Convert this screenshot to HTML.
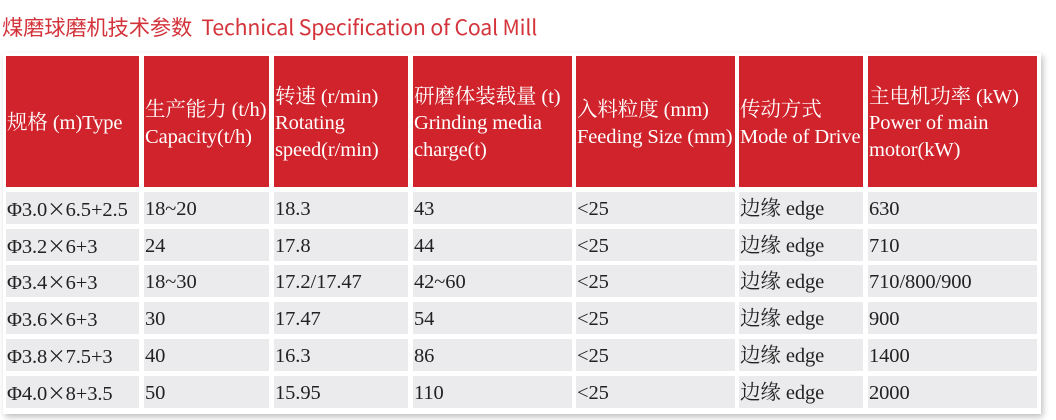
<!DOCTYPE html>
<html><head><meta charset="utf-8"><style>
body{margin:0;width:1056px;height:420px;background:#fff;overflow:hidden;position:relative}
.t{position:absolute;left:2px;top:11px;font:21.3px "Noto Sans CJK SC",sans-serif;color:#d3343b;white-space:nowrap;letter-spacing:-0.17px}
.tb{position:absolute;left:3px;top:53px;width:1038px;height:361px;background:#fff;box-shadow:2px 3px 6px rgba(0,0,0,0.25)}
.c{position:absolute;font:20.5px/26.5px "Liberation Serif","Noto Serif CJK SC",serif;white-space:nowrap;box-sizing:border-box;padding-left:1px;letter-spacing:-0.1px}
.h{background:#d0232b;color:#fff;display:flex;align-items:center;padding-top:4px}
.b{background:#ebebed;color:#222;line-height:34px}
.x{font-family:"Noto Sans CJK SC",sans-serif;font-size:18.5px}
</style></head><body>
<div class="t">煤磨球磨机技术参数&nbsp; Technical Specification of Coal Mill</div>
<div class="tb"></div>
<div id="g"></div>
<script>
var xs=[[6,139],[144,269],[274,408],[413,572],[576,735],[739,863],[868,1037]];
var H=["规格 (m)Type","生产能力 (t/h)<br>Capacity(t/h)","转速 (r/min)<br>Rotating<br>speed(r/min)","研磨体装载量 (t)<br>Grinding media<br>charge(t)","入料粒度 (mm)<br>Feeding Size (mm)","传动方式<br>Mode of Drive","主电机功率 (kW)<br>Power of main<br>motor(kW)"];
var X='<span class="x">×</span>';
var R=[["Φ3.0"+X+"6.5+2.5","18~20","18.3","43","&lt;25","边缘 edge","630"],
["Φ3.2"+X+"6+3","24","17.8","44","&lt;25","边缘 edge","710"],
["Φ3.4"+X+"6+3","18~30","17.2/17.47","42~60","&lt;25","边缘 edge","710/800/900"],
["Φ3.6"+X+"6+3","30","17.47","54","&lt;25","边缘 edge","900"],
["Φ3.8"+X+"7.5+3","40","16.3","86","&lt;25","边缘 edge","1400"],
["Φ4.0"+X+"8+3.5","50","15.95","110","&lt;25","边缘 edge","2000"]];
var s="";
for(var i=0;i<7;i++){var x=xs[i];
s+='<div class="c h" style="left:'+x[0]+'px;top:56px;width:'+(x[1]-x[0])+'px;height:131px"><div>'+H[i]+'</div></div>';
for(var r=0;r<6;r++){var y=192+r*36.7;
s+='<div class="c b" style="left:'+x[0]+'px;top:'+y.toFixed(1)+'px;width:'+(x[1]-x[0])+'px;height:32px">'+R[r][i]+'</div>';}}
document.getElementById("g").innerHTML=s;
</script>
</body></html>
